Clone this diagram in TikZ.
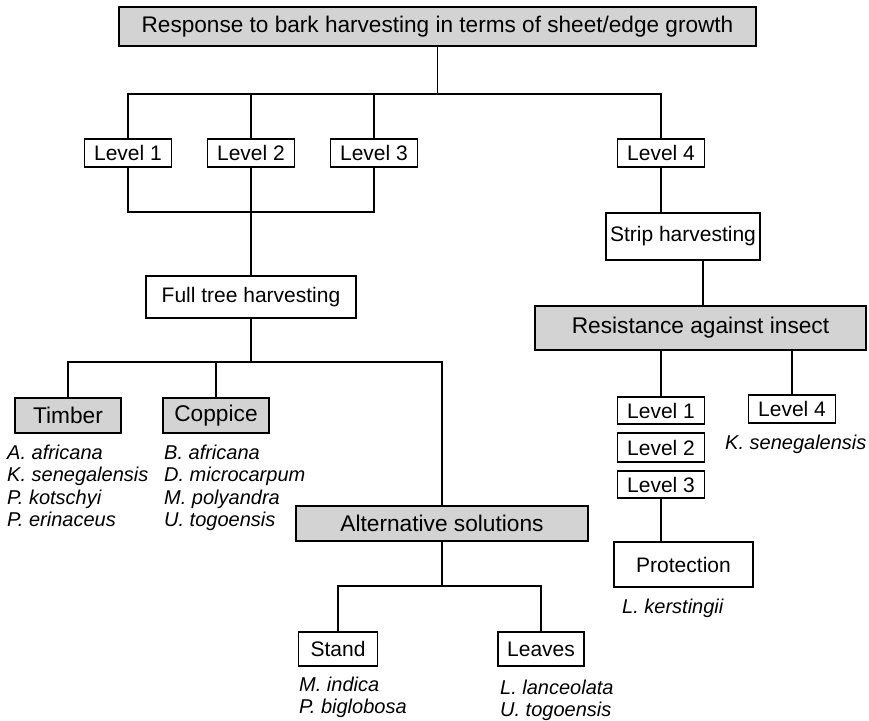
\documentclass[tikz,border=0pt]{standalone}
\usepackage{fontspec}
\setmainfont{Liberation Sans}
\definecolor{boxgray}{RGB}{211,211,211}
\begin{document}
\begin{tikzpicture}[x=1pt,y=-1pt,
  box/.style={draw, line width=1.5pt, inner sep=0pt, fill=white, font=\fontsize{21}{25}\selectfont},
  gbox/.style={box, fill=boxgray, font=\fontsize{22.7}{27}\selectfont},
  lvl/.style={box, minimum width=87pt, minimum height=28pt},
  spc/.style={anchor=base west, inner sep=0pt, font=\fontsize{20}{24}\selectfont\itshape},
  conn/.style={line width=1.5pt}]
\useasboundingbox (0,0) rectangle (869,720);

% boxes
\node[gbox, minimum width=637pt, minimum height=39pt, font=\fontsize{22.6}{27}\selectfont] (top) at (437.5,26.5) {Response to bark harvesting in terms of sheet/edge growth};
\node[lvl] (L1) at (128,153) {Level 1};
\node[lvl] (L2) at (251,153) {Level 2};
\node[lvl] (L3) at (374,153) {Level 3};
\node[lvl] (L4) at (661,153) {Level 4};
\node[box, minimum width=210pt, minimum height=42pt] (FT) at (251,297) {Full tree harvesting};
\node[box, minimum width=154pt, minimum height=47pt] (SH) at (683,236.5) {Strip harvesting};
\node[gbox, minimum width=331pt, minimum height=44pt] (RI) at (700.5,328) {Resistance against insect};
\node[gbox, minimum width=106pt, minimum height=35pt] (TI) at (68,415.5) {Timber};
\node[gbox, minimum width=106pt, minimum height=35pt] (CO) at (216,415.5) {Coppice};
\node[gbox, minimum width=292pt, minimum height=35pt] (AS) at (442,523.5) {Alternative solutions};
\node[box, minimum width=79pt, minimum height=34pt] (ST) at (338,649) {Stand};
\node[box, minimum width=86pt, minimum height=34pt] (LE) at (541,649) {Leaves};
\node[lvl, minimum height=27pt] (R1) at (661,410.5) {Level 1};
\node[lvl, minimum height=29pt] (R2) at (661,447.5) {Level 2};
\node[lvl, minimum height=27pt] (R3) at (661,484.5) {Level 3};
\node[lvl] (R4) at (792,409) {Level 4};
\node[box, minimum width=139pt, minimum height=45pt] (PR) at (683.5,564.5) {Protection};

% species
\node[spc] (t1) at (7,459) {A. africana};
\node[spc] (t2) at (7,481.5) {K. senegalensis};
\node[spc] (t3) at (7,504) {P. kotschyi};
\node[spc] (t4) at (7,526.5) {P. erinaceus};
\node[spc] (c1) at (164,459) {B. africana};
\node[spc] (c2) at (164,481.5) {D. microcarpum};
\node[spc] (c3) at (164,504) {M. polyandra};
\node[spc] (c4) at (164,526.5) {U. togoensis};
\node[spc] (s1) at (299,691) {M. indica};
\node[spc] (s2) at (299,713) {P. biglobosa};
\node[spc] (l1) at (500,694) {L. lanceolata};
\node[spc] (l2) at (500,716) {U. togoensis};
\node[spc] (k1) at (725,449) {K. senegalensis};
\node[spc] (p1) at (622,613) {L. kerstingii};

% connectors
\coordinate (b1) at (437.5,94);
\draw[conn] (top.south) -- (b1);
\draw[conn] (L1.north) |- (b1) -| (L4.north);
\draw[conn] (L2.north) -- (L2.north |- b1);
\draw[conn] (L3.north) -- (L3.north |- b1);
\coordinate (b2) at (251,212);
\draw[conn] (L1.south) |- (b2) -| (L3.south);
\draw[conn] (L2.south) -- (FT.north);
\draw[conn] (L4.south) -- (L4.south |- SH.north);
\coordinate (v1) at (703,306);
\draw[conn] (v1 |- SH.south) -- (v1 |- RI.north);
\draw[conn] (R1.north) -- (R1.north |- RI.south);
\draw[conn] (R4.north) -- (R4.north |- RI.south);
\draw[conn] (R3.south) -- (R3.south |- PR.north);
\coordinate (b3) at (251,362);
\draw[conn] (FT.south) -- (b3);
\draw[conn] (TI.north) |- (b3) -| (AS.north);
\draw[conn] (CO.north) -- (CO.north |- b3);
\coordinate (b4) at (442,586);
\draw[conn] (AS.south) -- (b4);
\draw[conn] (ST.north) |- (b4) -| (LE.north);
\end{tikzpicture}
\end{document}
